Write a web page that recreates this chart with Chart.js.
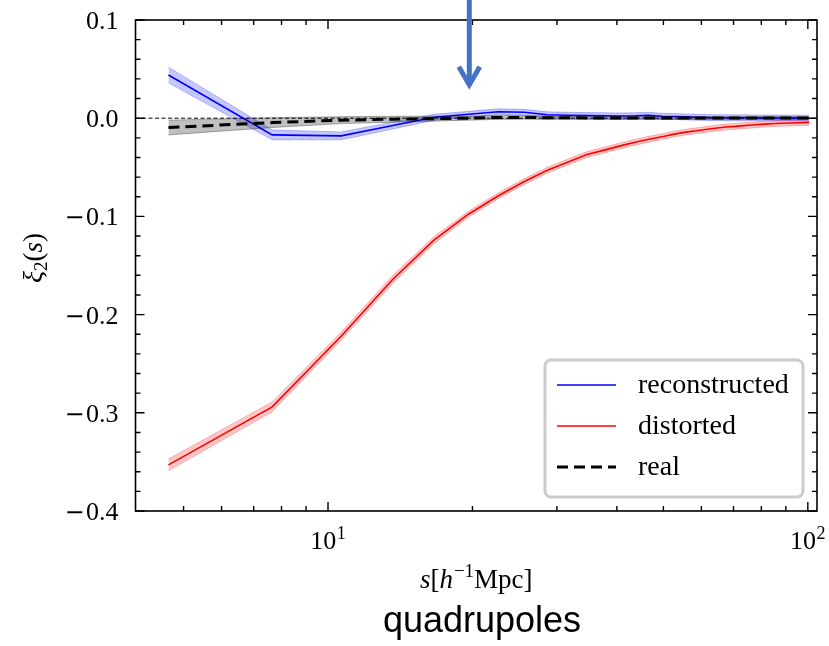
<!DOCTYPE html>
<html>
<head>
<meta charset="utf-8">
<script src="https://cdn.jsdelivr.net/npm/chart.js@4/dist/chart.umd.min.js"></script>
<style>
html,body{margin:0;padding:0;background:#ffffff;}
#c{display:block;width:829px;height:646px;}
</style>
</head>
<body>
<canvas id="c" width="829" height="646"></canvas>
<script>
// ---- data ----
const sValues = [4.65, 7.65, 10.65, 13.65, 16.65, 19.65, 22.65, 25.65, 28.65, 31.65, 34.65,
  37.65, 40.65, 43.65, 46.65, 49.65, 52.65, 55.65, 58.65, 61.65, 64.65, 67.65, 70.65,
  73.65, 76.65, 79.65, 82.65, 85.65, 88.65, 91.65, 94.65, 97.65, 100.65];

const reconstructed = [0.044, -0.017, -0.018, -0.0075, 0.001, 0.004, 0.0065, 0.006, 0.0035,
  0.003, 0.0027, 0.0025, 0.0023, 0.0025, 0.003, 0.002, 0.0017, 0.0013, 0.001, 0.0007,
  0.0005, 0.0005, 0.0004, 0.0004, 0.0003, 0.0003, 0.0002, 0.0002, 0.0002, 0.0001,
  0.0001, 0.0001, 0.0001];
const reconstructedErr = [0.008, 0.005, 0.004, 0.0035, 0.003, 0.003, 0.003, 0.003, 0.003,
  0.003, 0.003, 0.003, 0.003, 0.003, 0.003, 0.003, 0.003, 0.003, 0.003, 0.003, 0.003,
  0.003, 0.003, 0.003, 0.003, 0.003, 0.003, 0.003, 0.003, 0.003, 0.003, 0.003, 0.003];

const distorted = [-0.353, -0.294, -0.222, -0.164, -0.124, -0.0975, -0.079, -0.0645, -0.053,
  -0.0445, -0.037, -0.0325, -0.0282, -0.0245, -0.0215, -0.0188, -0.0162, -0.0142, -0.0128,
  -0.0113, -0.0100, -0.0090, -0.0083, -0.0076, -0.0069, -0.0063, -0.0058, -0.0054,
  -0.0051, -0.0049, -0.0047, -0.0045, -0.0043];
const distortedErr = [0.006, 0.005, 0.004, 0.004, 0.0035, 0.003, 0.003, 0.003, 0.003, 0.003,
  0.003, 0.003, 0.003, 0.003, 0.003, 0.003, 0.003, 0.003, 0.003, 0.003, 0.003, 0.003,
  0.003, 0.003, 0.003, 0.003, 0.003, 0.003, 0.003, 0.003, 0.003, 0.003, 0.003];

const real = [-0.0095, -0.0045, -0.002, -0.001, -0.0005, 0.0, 0.0008, 0.0008, 0.0005, 0.0004,
  0.0003, 0.0003, 0.0002, 0.0002, 0.0002, 0.0002, 0.0002, 0.0001, 0.0001, 0.0001, 0.0001,
  0.0001, 0.0001, 0.0001, 0.0001, 0.0001, 0.0001, 0.0001, 0.0001, 0.0001, 0.0001, 0.0001, 0.0001];
const realErr = [0.0075, 0.005, 0.0035, 0.003, 0.0025, 0.002, 0.002, 0.0018, 0.0017, 0.0016,
  0.0015, 0.0015, 0.0015, 0.0015, 0.0015, 0.0015, 0.0015, 0.0015, 0.0015, 0.0015, 0.0015,
  0.0015, 0.0015, 0.0015, 0.0015, 0.0015, 0.0015, 0.0015, 0.0015, 0.0015, 0.0015, 0.0015, 0.0015];

const seriesLabels = ['reconstructed', 'distorted', 'real'];
const xTickValues = [10, 100];
const xTickBase = ['10', '10'];
const xTickExp = ['1', '2'];
const xMinorTicks = [5, 6, 7, 8, 9, 20, 30, 40, 50, 60, 70, 80, 90];
const yTickValues = [-0.4, -0.3, -0.2, -0.1, 0.0, 0.1];
const yTickLabels = ['\u22120.4', '\u22120.3', '\u22120.2', '\u22120.1', '0.0', '0.1'];
const yMinorStep = 0.02;
const arrowAt = { s: 19.7, tip: 0.032, top: 0.13 };

// ---- build datasets ----
const pts = (ys) => sValues.map((s, i) => ({ x: s, y: ys[i] }));
const band = (ys, es, sign) => sValues.map((s, i) => ({ x: s, y: ys[i] + sign * es[i] }));

const SERIF = "'Liberation Serif', 'Times New Roman', serif";

const datasets = [
  { data: band(distorted, distortedErr, -1), borderColor: 'rgba(255,0,0,0.25)', borderWidth: 1, fill: false, order: 9 },
  { data: band(distorted, distortedErr, 1), borderColor: 'rgba(255,0,0,0.25)', borderWidth: 1, fill: '-1', backgroundColor: 'rgba(255,0,0,0.22)', order: 8 },
  { label: seriesLabels[1], data: pts(distorted), borderColor: '#ff0000', borderWidth: 1.6, fill: false, order: 7 },
  { data: band(reconstructed, reconstructedErr, -1), borderColor: 'rgba(0,0,255,0.25)', borderWidth: 1, fill: false, order: 6 },
  { data: band(reconstructed, reconstructedErr, 1), borderColor: 'rgba(0,0,255,0.25)', borderWidth: 1, fill: '-1', backgroundColor: 'rgba(0,0,255,0.22)', order: 5 },
  { label: seriesLabels[0], data: pts(reconstructed), borderColor: '#0000ff', borderWidth: 1.6, fill: false, order: 4 },
  { data: band(real, realErr, -1), borderColor: 'rgba(0,0,0,0.3)', borderWidth: 1, fill: false, order: 3 },
  { data: band(real, realErr, 1), borderColor: 'rgba(0,0,0,0.3)', borderWidth: 1, fill: '-1', backgroundColor: 'rgba(0,0,0,0.25)', order: 2 },
  { label: seriesLabels[2], data: pts(real), borderColor: '#000000', borderWidth: 3, borderDash: [11, 6], fill: false, order: 1 }
];

const legendEntries = [
  { label: seriesLabels[0], color: '#0000ff', width: 1.6, dash: [] },
  { label: seriesLabels[1], color: '#ff0000', width: 1.6, dash: [] },
  { label: seriesLabels[2], color: '#000000', width: 3, dash: [11, 6] }
];

function drawRuns(ctx, runs, cx, baseline, align) {
  let total = 0;
  runs.forEach(r => { ctx.font = r.font; r.w = ctx.measureText(r.t).width; total += r.w + (r.gap || 0); });
  let x = align === 'right' ? cx - total : cx - total / 2;
  runs.forEach(r => {
    ctx.font = r.font;
    ctx.fillText(r.t, x, baseline + (r.dy || 0));
    x += r.w + (r.gap || 0);
  });
}

const decor = {
  id: 'decor',
  beforeDatasetsDraw(chart) {
    const { ctx, chartArea: a, scales: { y } } = chart;
    const y0 = y.getPixelForValue(0);
    ctx.save();
    ctx.strokeStyle = '#000';
    ctx.lineWidth = 1;
    ctx.setLineDash([4, 2.5]);
    ctx.beginPath();
    ctx.moveTo(a.left, y0);
    ctx.lineTo(a.right, y0);
    ctx.stroke();
    ctx.restore();
  },
  afterDraw(chart) {
    const { ctx, chartArea: a, scales: { x, y } } = chart;
    ctx.save();
    // frame
    ctx.strokeStyle = '#000';
    ctx.lineWidth = 1.6;
    ctx.setLineDash([]);
    ctx.strokeRect(a.left, a.top, a.right - a.left, a.bottom - a.top);
    // ticks (inward, all four sides)
    ctx.lineWidth = 1.4;
    const majL = 9, minL = 5;
    const xt = (v, L) => {
      const px = x.getPixelForValue(v);
      ctx.beginPath();
      ctx.moveTo(px, a.bottom); ctx.lineTo(px, a.bottom - L);
      ctx.moveTo(px, a.top); ctx.lineTo(px, a.top + L);
      ctx.stroke();
    };
    xTickValues.forEach(v => xt(v, majL));
    xMinorTicks.forEach(v => xt(v, minL));
    const yt = (v, L) => {
      const py = y.getPixelForValue(v);
      ctx.beginPath();
      ctx.moveTo(a.left, py); ctx.lineTo(a.left + L, py);
      ctx.moveTo(a.right, py); ctx.lineTo(a.right - L, py);
      ctx.stroke();
    };
    for (let k = 0; k <= 25; k++) {
      const v = -0.4 + k * yMinorStep;
      const isMajor = k % 5 === 0;
      yt(v, isMajor ? majL : minL);
    }

    ctx.fillStyle = '#000';
    ctx.textBaseline = 'alphabetic';
    ctx.textAlign = 'left';

    // tick labels
    yTickValues.forEach((v, i) => {
      const py = y.getPixelForValue(v);
      const lab = yTickLabels[i];
      const runs = [];
      if (lab.startsWith('\u2212')) {
        runs.push({ t: '\u2212', font: "24px 'DejaVu Sans', sans-serif", gap: 1.5 });
        runs.push({ t: lab.slice(1), font: '26px ' + SERIF });
      } else {
        runs.push({ t: lab, font: '26px ' + SERIF });
      }
      drawRuns(ctx, runs, a.left - 17, py + 9, 'right');
    });
    xTickValues.forEach((v, i) => {
      const px = x.getPixelForValue(v);
      drawRuns(ctx, [
        { t: xTickBase[i], font: '26px ' + SERIF, gap: 0.5 },
        { t: xTickExp[i], font: '18px ' + SERIF, dy: -10 }
      ], px, 549);
    });

    // axis titles
    const cx = (a.left + a.right) / 2;
    drawRuns(ctx, [
      { t: 's', font: 'italic 27px ' + SERIF },
      { t: '[', font: '27px ' + SERIF },
      { t: 'h', font: 'italic 27px ' + SERIF, gap: 1 },
      { t: '\u22121', font: '19px ' + SERIF, dy: -11 },
      { t: 'Mpc]', font: '27px ' + SERIF }
    ], cx, 588);

    ctx.save();
    ctx.translate(33, 258);
    ctx.rotate(-Math.PI / 2);
    drawRuns(ctx, [
      { t: '\u03BE', font: 'italic 28px ' + SERIF },
      { t: '2', font: '19px ' + SERIF, dy: 5 },
      { t: '(', font: '27px ' + SERIF },
      { t: 's', font: 'italic 27px ' + SERIF },
      { t: ')', font: '27px ' + SERIF }
    ], 0, 9);
    ctx.restore();

    // caption
    ctx.font = "36px 'Liberation Sans', Arial, sans-serif";
    ctx.textAlign = 'center';
    ctx.fillText('quadrupoles', 482, 632);

    // legend
    const L = { x: 545, y: 360, w: 258, h: 137 };
    ctx.beginPath();
    ctx.roundRect(L.x, L.y, L.w, L.h, 6);
    ctx.fillStyle = 'rgba(255,255,255,0.85)';
    ctx.fill();
    ctx.strokeStyle = '#cccccc';
    ctx.lineWidth = 3;
    ctx.stroke();
    ctx.font = '28px ' + SERIF;
    ctx.textAlign = 'left';
    ctx.textBaseline = 'middle';
    legendEntries.forEach((e, i) => {
      const ry = 385 + i * 41;
      ctx.strokeStyle = e.color;
      ctx.lineWidth = e.width;
      ctx.setLineDash(e.dash);
      ctx.beginPath();
      ctx.moveTo(557, ry); ctx.lineTo(616, ry);
      ctx.stroke();
      ctx.setLineDash([]);
      ctx.fillStyle = '#000';
      ctx.fillText(e.label, 638, ry + 1);
    });

    // annotation arrow
    const ax = x.getPixelForValue(arrowAt.s);
    const tip = y.getPixelForValue(arrowAt.tip);
    const top = y.getPixelForValue(arrowAt.top);
    ctx.strokeStyle = '#4472C4';
    ctx.lineWidth = 5;
    ctx.lineJoin = 'miter';
    ctx.lineCap = 'butt';
    ctx.beginPath();
    ctx.moveTo(ax, top); ctx.lineTo(ax, tip - 3);
    ctx.stroke();
    ctx.beginPath();
    ctx.moveTo(ax - 10.5, tip - 20); ctx.lineTo(ax, tip - 2); ctx.lineTo(ax + 10.5, tip - 20);
    ctx.stroke();
    ctx.restore();
  }
};

new Chart(document.getElementById('c'), {
  type: 'line',
  data: { datasets },
  options: {
    responsive: false,
    animation: false,
    devicePixelRatio: 1,
    layout: { padding: { top: 20, right: 12, left: 0, bottom: 0 } },
    plugins: { legend: { display: false }, tooltip: { enabled: false }, title: { display: false } },
    elements: { point: { radius: 0, hoverRadius: 0 }, line: { tension: 0 } },
    scales: {
      x: {
        type: 'logarithmic',
        min: 3.97,
        max: 104.5,
        grid: { display: false, drawTicks: false },
        border: { display: false },
        ticks: { display: false },
        afterBuildTicks: s => { s.ticks = xTickValues.map(v => ({ value: v, major: true })); },
        afterFit: s => { s.height = 135; s.paddingLeft = 0; s.paddingRight = 0; }
      },
      y: {
        type: 'linear',
        min: -0.4,
        max: 0.1,
        grid: { display: false, drawTicks: false },
        border: { display: false },
        ticks: { display: false },
        afterBuildTicks: s => { s.ticks = yTickValues.map(v => ({ value: v })); },
        afterFit: s => { s.width = 135.5; s.paddingTop = 0; s.paddingBottom = 0; }
      }
    }
  },
  plugins: [decor]
});
</script>
</body>
</html>
